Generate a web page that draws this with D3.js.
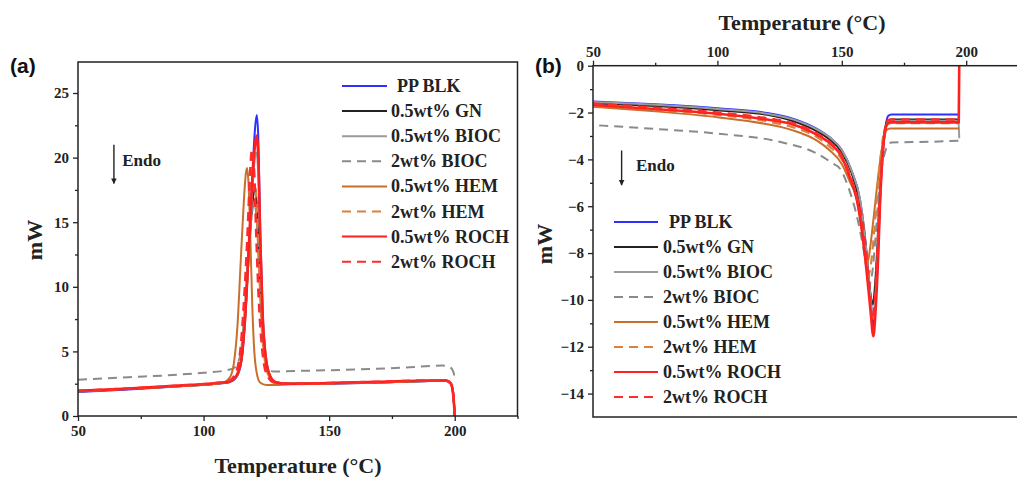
<!DOCTYPE html>
<meta charset="utf-8">
<style>
body { margin: 0; background: #fff; }
svg { display: block; }
.tick text { font-family: "Liberation Serif", "Times New Roman", serif; font-weight: bold; font-size: 15px; fill: #222; }
.tick line { stroke: #222; stroke-width: 1.3px; }
.frame { fill: none; stroke: #222; stroke-width: 1.5px; }
.title { font-family: "Liberation Serif", serif; font-weight: bold; font-size: 22px; fill: #222; }
.leg { font-family: "Liberation Serif", serif; font-weight: bold; font-size: 18px; fill: #222; }
.endo { font-family: "Liberation Serif", serif; font-weight: bold; font-size: 17px; fill: #222; }
.plabel { font-family: "Liberation Sans", Arial, sans-serif; font-weight: bold; font-size: 21px; fill: #111; }
.curve { fill: none; stroke-linejoin: round; }
</style>
<body>
<script src="https://cdn.jsdelivr.net/npm/d3@7"></script>
<script>
var width = 1017, height = 477;

// series names + styles
var names = ["PP BLK", "0.5wt% GN", "0.5wt% BIOC", "2wt% BIOC", "0.5wt% HEM", "2wt% HEM", "0.5wt% ROCH", "2wt% ROCH"];
var colors = ["#2f2fff", "#222222", "#9a9a9a", "#8a8a8a", "#c86f2c", "#d9813f", "#ff1f1f", "#ff2a2a"];
var dashed = [false, false, false, true, false, true, false, true];
var widths = [2, 2, 2, 2, 2, 2.2, 2.6, 2.6];

// (a) cooling scans, [T, mW]
var coolBLK = [[50,1.85],[70,2.05],[90,2.3],[105,2.5],[110,2.6],[113,3.0],[115,4.2],[116.5,7.5],[118,13],[119.5,19],[120.6,22.5],[121.2,23.3],[121.8,21.5],[122.6,14],[123.5,8],[124.5,5],[126,3.3],[128,2.65],[132,2.5],[150,2.5],[170,2.6],[190,2.7],[196.5,2.72],[198.5,2.5],[199.5,1.5],[200,0]];
var coolGN = [[50,1.9],[70,2.1],[90,2.3],[105,2.5],[110,2.62],[113,3.0],[115,4.3],[116.5,7.5],[118,12.5],[119.5,16.5],[120.5,17.8],[121.3,16],[122.3,11.5],[123.4,7],[124.6,4.5],[126.3,3.1],[129,2.6],[135,2.5],[150,2.55],[170,2.6],[190,2.7],[196.5,2.75],[198.5,2.5],[199.5,1.5],[200,0]];
var coolBIOC = [[50,1.9],[70,2.1],[90,2.3],[105,2.5],[110,2.62],[113,3.0],[115,4.2],[116.5,7.3],[118,12.5],[119.6,18],[120.6,20.2],[121.1,20.4],[121.8,18.5],[122.6,13],[123.6,7.5],[124.8,4.6],[126.5,3.1],[129,2.6],[135,2.5],[150,2.55],[170,2.62],[190,2.72],[196.5,2.75],[198.5,2.5],[199.5,1.5],[200,0]];
var coolBIOC2 = [[50,2.8],[70,3.0],[90,3.2],[100,3.35],[108,3.5],[112,3.7],[114.5,4.6],[116.3,8],[118,13],[119.5,16],[120.3,16.5],[121.2,15],[122.2,11],[123.4,7],[124.6,4.6],[126,3.6],[128,3.45],[140,3.5],[160,3.6],[180,3.75],[195,3.9],[198,3.8],[199.5,3.4],[200,3.0]];
var coolHEM = [[50,1.9],[70,2.1],[90,2.3],[105,2.5],[108,2.6],[110.5,3.0],[112,4.0],[113.5,7],[114.8,12],[116,16.5],[116.8,18.7],[117.3,19.2],[117.9,18],[118.6,14],[119.4,8.5],[120.2,5],[121.2,3.3],[122.5,2.6],[125,2.4],[135,2.45],[150,2.5],[170,2.6],[190,2.7],[196.5,2.7],[198.5,2.5],[199.5,1.5],[200,0]];
var coolHEM2 = [[50,1.95],[70,2.12],[90,2.32],[105,2.52],[110,2.65],[112.8,3.1],[114.8,4.6],[116.4,8.5],[118,14],[119.5,17.5],[120.3,18],[121.1,16.5],[122,12],[123.1,7],[124.4,4.3],[126,3.1],[129,2.6],[135,2.5],[150,2.55],[170,2.62],[190,2.72],[196.5,2.75],[198.5,2.5],[199.5,1.5],[200,0]];
var coolROCH = [[50,1.95],[70,2.12],[90,2.35],[105,2.55],[110,2.65],[113,3.1],[115,4.3],[116.5,7.5],[118,13],[119.5,18.5],[120.5,21],[121.1,21.7],[121.8,20],[122.6,13.5],[123.6,7.5],[124.8,4.5],[126.5,3.1],[129,2.6],[133,2.5],[150,2.55],[170,2.65],[190,2.75],[196.5,2.75],[198.5,2.5],[199.5,1.5],[200,0]];
var coolROCH2 = [[50,1.95],[70,2.12],[90,2.35],[105,2.55],[110,2.7],[112.5,3.2],[114.5,4.8],[116,8.5],[117.5,14],[118.6,19],[119.3,20.6],[120.1,19],[121,14],[122,9],[123.2,5.5],[125,3.3],[128,2.6],[135,2.5],[150,2.55],[170,2.65],[190,2.75],[196.5,2.75],[198.5,2.5],[199.5,1.5],[200,0]];

// (b) heating scans, [T, mW]
var heatBLK = [[50,-1.53],[75,-1.65],[100,-1.82],[120,-2.02],[130,-2.25],[140,-2.7],[145,-3.05],[150,-3.6],[154,-4.5],[157.3,-5.7],[159,-7],[160.4,-8.5],[161.6,-10],[162.7,-11.15],[163.6,-10],[164.6,-8],[165.4,-5.7],[166.4,-3.8],[167.4,-2.75],[168.6,-2.15],[170,-2.08],[185,-2.08],[197.2,-2.08]];
var heatGN = [[50,-1.6],[75,-1.72],[100,-1.9],[120,-2.1],[130,-2.35],[140,-2.8],[145,-3.15],[150,-3.7],[154,-4.6],[157,-5.8],[159,-7.1],[160.4,-8.6],[161.6,-9.8],[162.5,-10.2],[163.4,-9.3],[164.4,-7.5],[165.3,-5.4],[166.3,-3.7],[167.3,-2.75],[168.6,-2.33],[170,-2.3],[197.2,-2.3]];
var heatBIOC = [[50,-1.55],[75,-1.67],[100,-1.85],[120,-2.05],[130,-2.28],[140,-2.72],[145,-3.05],[150,-3.6],[154,-4.5],[157.3,-5.7],[159,-7],[160.4,-8.5],[161.6,-9.9],[162.6,-10.8],[163.5,-9.8],[164.5,-7.8],[165.4,-5.6],[166.4,-3.8],[167.4,-2.8],[168.6,-2.38],[170,-2.35],[196.9,-2.35],[197.2,-3.1]];
var heatBIOC2 = [[52.5,-2.55],[75,-2.7],[100,-2.9],[125,-3.25],[140,-3.75],[146,-4.15],[149.3,-4.4],[153,-5.3],[156,-6.4],[158.5,-7.7],[160.2,-8.8],[161.3,-9.3],[162.3,-8.8],[163.5,-7.4],[165,-5.3],[166.5,-4.1],[168,-3.5],[170,-3.28],[185,-3.25],[197,-3.2]];
var heatHEM = [[50,-1.75],[75,-1.95],[100,-2.2],[120,-2.5],[130,-2.75],[140,-3.2],[145,-3.6],[150,-4.2],[153,-4.9],[156.4,-5.9],[158,-7],[159.2,-8],[160,-8.45],[160.8,-8.2],[162.1,-7.15],[163.5,-5.8],[165,-4.4],[166.5,-3.3],[168,-2.75],[169.5,-2.68],[172,-2.68],[197.2,-2.68]];
var heatHEM2 = [[50,-1.7],[75,-1.88],[100,-2.1],[120,-2.38],[130,-2.62],[140,-3.05],[145,-3.45],[150,-4.0],[154,-4.9],[157,-6.1],[159,-7.5],[160.2,-8.5],[160.9,-8.9],[161.8,-8.4],[163,-7.1],[164.3,-5.4],[165.6,-3.9],[167,-2.8],[168.5,-2.5],[170,-2.45],[197.2,-2.45]];
var heatROCH = [[50,-1.68],[75,-1.85],[100,-2.05],[120,-2.3],[130,-2.5],[140,-2.95],[145,-3.3],[150,-3.9],[153,-4.7],[156,-5.7],[158.3,-7.2],[160,-8.8],[161.5,-10.4],[162.7,-11.55],[163.6,-10.4],[164.6,-8.2],[165.4,-5.8],[166.4,-3.8],[167.4,-2.8],[168.6,-2.45],[170,-2.42],[197,-2.42],[197.2,0]];
var heatROCH2 = [[50,-1.62],[75,-1.8],[100,-2.0],[120,-2.25],[130,-2.45],[140,-2.9],[145,-3.25],[150,-3.85],[153,-4.6],[156,-5.6],[158.5,-6.8],[160,-8.3],[161,-9.4],[162.3,-10.9],[163.2,-10.2],[164.2,-8.2],[165.2,-5.8],[166.3,-3.8],[167.4,-2.7],[168.6,-2.33],[170,-2.3],[197.2,-2.3]];

var coolSeries = [coolBLK, coolGN, coolBIOC, coolBIOC2, coolHEM, coolHEM2, coolROCH, coolROCH2];
var heatSeries = [heatBLK, heatGN, heatBIOC, heatBIOC2, heatHEM, heatHEM2, heatROCH, heatROCH2];

var svg = d3.select("body").append("svg")
    .attr("width", width)
    .attr("height", height);

// ---------- panel (a)
var xa = d3.scaleLinear().domain([50, 225]).range([78, 517.5]);
var ya = d3.scaleLinear().domain([0, 27.4]).range([416, 62]);

var ga = svg.append("g");

var lineA = d3.line()
    .x(function(d) { return xa(d[0]); })
    .y(function(d) { return ya(d[1]); })
    .curve(d3.curveMonotoneX);

ga.selectAll(".curve")
  .data(coolSeries)
  .enter().append("path")
    .attr("class", "curve")
    .attr("d", lineA)
    .attr("stroke", function(d, i) { return colors[i]; })
    .attr("stroke-width", function(d, i) { return widths[i]; })
    .attr("stroke-dasharray", function(d, i) { return dashed[i] ? "9,6" : null; });

ga.append("rect").attr("class", "frame")
    .attr("x", 78).attr("y", 62).attr("width", 517.5 - 78).attr("height", 416 - 62);

ga.append("g")
    .attr("transform", "translate(0,416)")
    .call(d3.axisBottom(xa).tickValues([50, 100, 150, 200]).tickSize(5).tickPadding(4))
    .call(function(g) { g.select(".domain").remove(); });
ga.append("g")
    .attr("transform", "translate(0,416)")
    .call(d3.axisBottom(xa).tickValues([75, 125, 175, 225]).tickSize(3).tickFormat(""))
    .call(function(g) { g.select(".domain").remove(); });
ga.append("g")
    .attr("transform", "translate(78,0)")
    .call(d3.axisLeft(ya).tickValues([0, 5, 10, 15, 20, 25]).tickSize(5).tickPadding(4))
    .call(function(g) { g.select(".domain").remove(); });
ga.append("g")
    .attr("transform", "translate(78,0)")
    .call(d3.axisLeft(ya).tickValues([2.5, 7.5, 12.5, 17.5, 22.5]).tickSize(3).tickFormat(""))
    .call(function(g) { g.select(".domain").remove(); });

ga.append("text").attr("class", "title")
    .attr("x", 298).attr("y", 473).attr("text-anchor", "middle")
    .text("Temperature (°C)");
ga.append("text").attr("class", "title")
    .attr("transform", "translate(42,240) rotate(-90)").attr("text-anchor", "middle")
    .text("mW");
ga.append("text").attr("class", "plabel").attr("x", 10).attr("y", 73).text("(a)");

// legend (a)
var legA = ga.append("g");
names.forEach(function(n, i) {
  var y = 86 + i * 25.1;
  legA.append("line")
      .attr("x1", 342).attr("x2", 387).attr("y1", y).attr("y2", y)
      .attr("stroke", colors[i]).attr("stroke-width", 2)
      .attr("stroke-dasharray", dashed[i] ? "9,6" : null);
  legA.append("text").attr("class", "leg")
      .attr("x", i === 0 ? 397 : 391).attr("y", y + 6).text(n);
});

// endo arrow (a)
var defs = svg.append("defs");
defs.append("marker")
    .attr("id", "arr").attr("viewBox", "0 0 10 10")
    .attr("refX", 9).attr("refY", 5)
    .attr("markerWidth", 4).attr("markerHeight", 5)
    .attr("orient", "auto")
  .append("path").attr("d", "M0,0L10,5L0,10z").attr("fill", "#222");

ga.append("line")
    .attr("x1", xa(64.3)).attr("x2", xa(64.3)).attr("y1", ya(21)).attr("y2", ya(18))
    .attr("stroke", "#222").attr("stroke-width", 1.4).attr("marker-end", "url(#arr)");
ga.append("text").attr("class", "endo").attr("x", xa(67.6)).attr("y", ya(19.35)).text("Endo");

// ---------- panel (b)
var xb = d3.scaleLinear().domain([50, 225]).range([593, 1028.4]);
var yb = d3.scaleLinear().domain([-15, 0]).range([417, 65.7]);

var gb = svg.append("g");

var lineB = d3.line()
    .x(function(d) { return xb(d[0]); })
    .y(function(d) { return yb(d[1]); })
    .curve(d3.curveMonotoneX);

gb.selectAll(".curve")
  .data(heatSeries)
  .enter().append("path")
    .attr("class", "curve")
    .attr("d", lineB)
    .attr("stroke", function(d, i) { return colors[i]; })
    .attr("stroke-width", function(d, i) { return widths[i]; })
    .attr("stroke-dasharray", function(d, i) { return dashed[i] ? "9,6" : null; });

gb.append("rect").attr("class", "frame")
    .attr("x", 593).attr("y", 65.7).attr("width", 1028.4 - 593).attr("height", 417 - 65.7);

gb.append("g")
    .attr("transform", "translate(0,65.7)")
    .call(d3.axisTop(xb).tickValues([50, 100, 150, 200]).tickSize(5).tickPadding(4))
    .call(function(g) { g.select(".domain").remove(); });
gb.append("g")
    .attr("transform", "translate(0,65.7)")
    .call(d3.axisTop(xb).tickValues([75, 125, 175]).tickSize(3).tickFormat(""))
    .call(function(g) { g.select(".domain").remove(); });
gb.append("g")
    .attr("transform", "translate(593,0)")
    .call(d3.axisLeft(yb).tickValues([0, -2, -4, -6, -8, -10, -12, -14]).tickSize(5).tickPadding(4))
    .call(function(g) { g.select(".domain").remove(); });
gb.append("g")
    .attr("transform", "translate(593,0)")
    .call(d3.axisLeft(yb).tickValues([-1, -3, -5, -7, -9, -11, -13]).tickSize(3).tickFormat(""))
    .call(function(g) { g.select(".domain").remove(); });

gb.append("text").attr("class", "title")
    .attr("x", 802).attr("y", 30).attr("text-anchor", "middle")
    .text("Temperature (°C)");
gb.append("text").attr("class", "title")
    .attr("transform", "translate(552,244) rotate(-90)").attr("text-anchor", "middle")
    .text("mW");
gb.append("text").attr("class", "plabel").attr("x", 535).attr("y", 73).text("(b)");

// legend (b)
var legB = gb.append("g");
names.forEach(function(n, i) {
  var y = 222 + i * 25;
  legB.append("line")
      .attr("x1", 614).attr("x2", 658).attr("y1", y).attr("y2", y)
      .attr("stroke", colors[i]).attr("stroke-width", 2)
      .attr("stroke-dasharray", dashed[i] ? "9,6" : null);
  legB.append("text").attr("class", "leg")
      .attr("x", i === 0 ? 669 : 663).attr("y", y + 6).text(n);
});

gb.append("line")
    .attr("x1", xb(61.5)).attr("x2", xb(61.5)).attr("y1", yb(-3.62)).attr("y2", yb(-5.1))
    .attr("stroke", "#222").attr("stroke-width", 1.4).attr("marker-end", "url(#arr)");
gb.append("text").attr("class", "endo").attr("x", xb(67.3)).attr("y", yb(-4.5)).text("Endo");
</script>
